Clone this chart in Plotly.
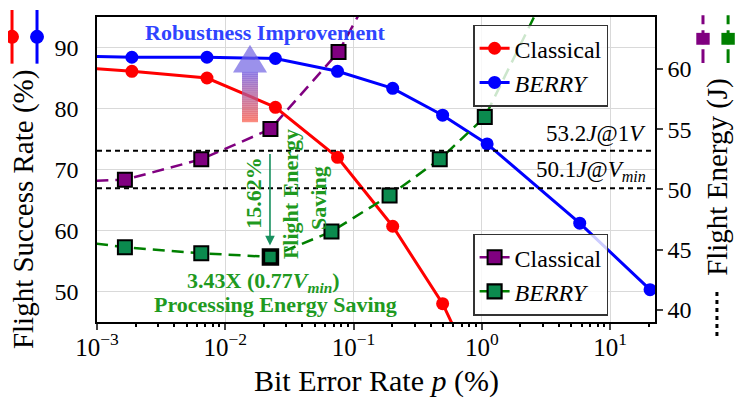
import plotly.graph_objs as go
import numpy as np

# bit error rate p (%) for every measured point
p_success = [0.0005, 0.00187, 0.0072, 0.0246, 0.075, 0.202, 0.495, 1.1, 5.8, 20.5]
classical_success = [87.0, 86.1, 85.0, 80.2, 72.0, 60.7, 48.0, 32.6]
berry_success = [88.7, 88.4, 88.4, 88.2, 86.1, 83.3, 78.9, 74.2, 61.2, 50.3]

p_energy_classical = [0.0005, 0.00165, 0.0065, 0.0225, 0.0764, 0.2]
classical_energy = [50.6, 50.8, 52.5, 55.0, 61.4, 69.6]
p_energy_berry = [0.0005, 0.00165, 0.0065, 0.0225, 0.0673, 0.191, 0.47, 1.055, 5.8]
berry_energy = [45.9, 45.2, 44.7, 44.4, 46.5, 49.5, 52.5, 56.0, 72.0]

# reference energy levels (J)
ref_levels = [53.2, 50.1]
ref_labels = ['53.2<i>J</i>@1<i>V</i>', '50.1<i>J</i>@<i>V</i><sub><i>min</i></sub>']

# x tick labels
x_tickvals = [0.001, 0.01, 0.1, 1, 10]
x_ticktext = ['10<sup>\u22123</sup>', '10<sup>\u22122</sup>', '10<sup>\u22121</sup>', '10<sup>0</sup>', '10<sup>1</sup>']

FONT = 'Liberation Serif'
GREEN_TXT = '#1f9a1f'

fig = go.Figure()

fig.add_trace(go.Scatter(x=p_success[:len(classical_success)], y=classical_success, name='Classical',
                         mode='lines+markers', line=dict(color='red', width=3),
                         marker=dict(symbol='circle', size=13, color='red'), legend='legend'))
fig.add_trace(go.Scatter(x=p_success, y=berry_success, name='<i>BERRY</i>',
                         mode='lines+markers', line=dict(color='blue', width=3),
                         marker=dict(symbol='circle', size=13, color='blue'), legend='legend'))

fig.add_trace(go.Scatter(x=p_energy_classical, y=classical_energy, name='Classical', yaxis='y2',
                         mode='lines+markers', line=dict(color='purple', width=2.5, dash='12px,7px'),
                         marker=dict(symbol='square', size=14, color='purple', line=dict(color='black', width=2)),
                         legend='legend2'))
berry_border = [2] * len(berry_energy)
berry_border[3] = 3.5
fig.add_trace(go.Scatter(x=p_energy_berry, y=berry_energy, name='<i>BERRY</i>', yaxis='y2',
                         mode='lines+markers', line=dict(color='green', width=2.5, dash='12px,7px'),
                         marker=dict(symbol='square', size=14, color='#0b8a4e', line=dict(color='black', width=berry_border)),
                         legend='legend2'))

shapes = []
annotations = []

# dotted reference lines on the energy axis
for lvl, lab in zip(ref_levels, ref_labels):
    shapes.append(dict(type='line', xref='paper', x0=0, x1=1, yref='y2', y0=lvl, y1=lvl,
                       line=dict(color='black', width=2, dash='5px,4px')))
    annotations.append(dict(xref='paper', x=0.987, yref='y2', y=lvl, yshift=17, text=lab,
                            showarrow=False, xanchor='right', yanchor='middle',
                            font=dict(size=23, color='black', family=FONT)))

# gradient "robustness" arrow, built from thin slices
n_slices = 24
y_bot, y_head, y_tip = 0.655, 0.818, 0.909
c_bot = np.array([248, 91, 76])
c_top = np.array([119, 91, 219])
for i in range(n_slices):
    t = i / (n_slices - 1)
    c = (1 - t) * c_bot + t * c_top
    ya = y_bot + (y_head - y_bot) * i / n_slices
    yb = y_bot + (y_head - y_bot) * (i + 1) / n_slices + 0.002
    shapes.append(dict(type='rect', xref='paper', yref='paper', x0=0.2599, x1=0.2885, y0=ya, y1=yb,
                       fillcolor='rgb(%d,%d,%d)' % tuple(c), line=dict(width=0), opacity=0.7, layer='above'))
shapes.append(dict(type='path', xref='paper', yref='paper',
                   path='M 0.2437 %f L 0.3047 %f L 0.2742 %f Z' % (y_head, y_head, y_tip),
                   fillcolor='rgb(112,98,226)', line=dict(width=0), opacity=0.7, layer='above'))

# side markers explaining which axis each series belongs to
def stick(x, y0, y1, color, dash=None, width=3):
    return dict(type='line', xref='paper', yref='paper', x0=x, x1=x, y0=y0, y1=y1,
                line=dict(color=color, width=width, dash=dash))

for x, col in [(-0.1523, 'red'), (-0.1075, 'blue')]:
    shapes.append(stick(x, 0.847, 1.023, col))
    shapes.append(dict(type='circle', xref='paper', yref='paper', x0=x - 0.0125, x1=x + 0.0125,
                       y0=0.935 - 0.0228, y1=0.935 + 0.0228, fillcolor=col, line=dict(width=0)))
for x, col in [(1.086, 'purple'), (1.131, 'green')]:
    # one dashed stroke from top to bottom: dash, gap, long dash under the square, gap, dash
    shapes.append(stick(x, 1.006, 0.849, col, dash='9px,6px,14px,5px,14px,50px'))
    shapes.append(dict(type='rect', xref='paper', yref='paper', x0=x - 0.012, x1=x + 0.012,
                       y0=0.909, y1=0.948, fillcolor=col, line=dict(width=0)))
shapes.append(stick(1.111, -0.046, 0.104, 'black', dash='4px,4px'))


def note(x, y, text, size, color, angle=0):
    return dict(xref='paper', yref='paper', x=x, y=y, text=text, showarrow=False,
                xanchor='center', yanchor='middle', textangle=angle,
                font=dict(size=size, color=color, family=FONT))


# text annotations
annotations += [
    note(0.301, 0.948, '<b>Robustness Improvement</b>', 22, '#2f44ff'),
    dict(xref='paper', yref='paper', x=0.31, y=0.251, ax=0, ay=-93, text='', showarrow=True,
         arrowhead=2, arrowsize=1.2, arrowwidth=1.6, arrowcolor='#17905e'),
    note(0.281, 0.423, '<b>15.62%</b>', 22, GREEN_TXT, -90),
    note(0.348, 0.420, '<b>Flight Energy</b>', 22, GREEN_TXT, -90),
    note(0.398, 0.407, '<b>Saving</b>', 22, GREEN_TXT, -90),
    note(0.299, 0.130, '<b>3.43X (0.77<i>V</i><sub><i>min</i></sub>)</b>', 22, GREEN_TXT),
    note(0.319, 0.059, '<b>Processing Energy Saving</b>', 22, GREEN_TXT),
    # axis titles
    note(-0.132, 0.368, 'Flight Success Rate (%)', 29, 'black', -90),
    note(1.113, 0.476, 'Flight Energy (J)', 29, 'black', -90),
    note(0.5, -0.195, 'Bit Error Rate <i>p</i> (%)', 30, 'black'),
]

# the page body adds an 8px offset, so the figure is 8px smaller and margins are shifted
fig.update_layout(
    width=739, height=395,
    margin=dict(l=89, r=92, t=7, b=81),
    paper_bgcolor='white', plot_bgcolor='white',
    font=dict(family=FONT, size=24, color='black'),
    xaxis=dict(type='log', range=[-3, np.log10(22.4)], tickvals=x_tickvals, ticktext=x_ticktext,
               showgrid=True, gridcolor='#d9d9d9', gridwidth=1,
               showline=True, linecolor='black', linewidth=1.5, mirror=True,
               ticks='outside', ticklen=6, tickwidth=1.5, tickfont=dict(size=25), ticklabelstandoff=-4,
               minor=dict(ticks='outside', ticklen=3, tickcolor='black', dtick='D1', showgrid=False)),
    yaxis=dict(range=[45, 95], dtick=10, tick0=50, showgrid=True, gridcolor='#d9d9d9', gridwidth=1,
               showline=True, linecolor='black', linewidth=1.5, ticks='', ticklabelstandoff=12,
               tickfont=dict(size=24), zeroline=False),
    yaxis2=dict(overlaying='y', side='right', range=[39, 64.3], dtick=5, tick0=40, showgrid=False,
                showline=True, linecolor='black', linewidth=1.5, ticks='outside', ticklen=6, tickwidth=1.5,
                tickfont=dict(size=24), zeroline=False),
    legend=dict(x=0.674, y=0.975, xanchor='left', yanchor='top', bgcolor='rgba(255,255,255,0.8)',
                bordercolor='#333333', borderwidth=1.5, font=dict(size=24, family=FONT)),
    legend2=dict(x=0.674, y=0.29, xanchor='left', yanchor='top', bgcolor='rgba(255,255,255,0.8)',
                 bordercolor='#333333', borderwidth=1.5, font=dict(size=24, family=FONT)),
    shapes=shapes,
    annotations=annotations,
)

fig.write_html("out.html")
